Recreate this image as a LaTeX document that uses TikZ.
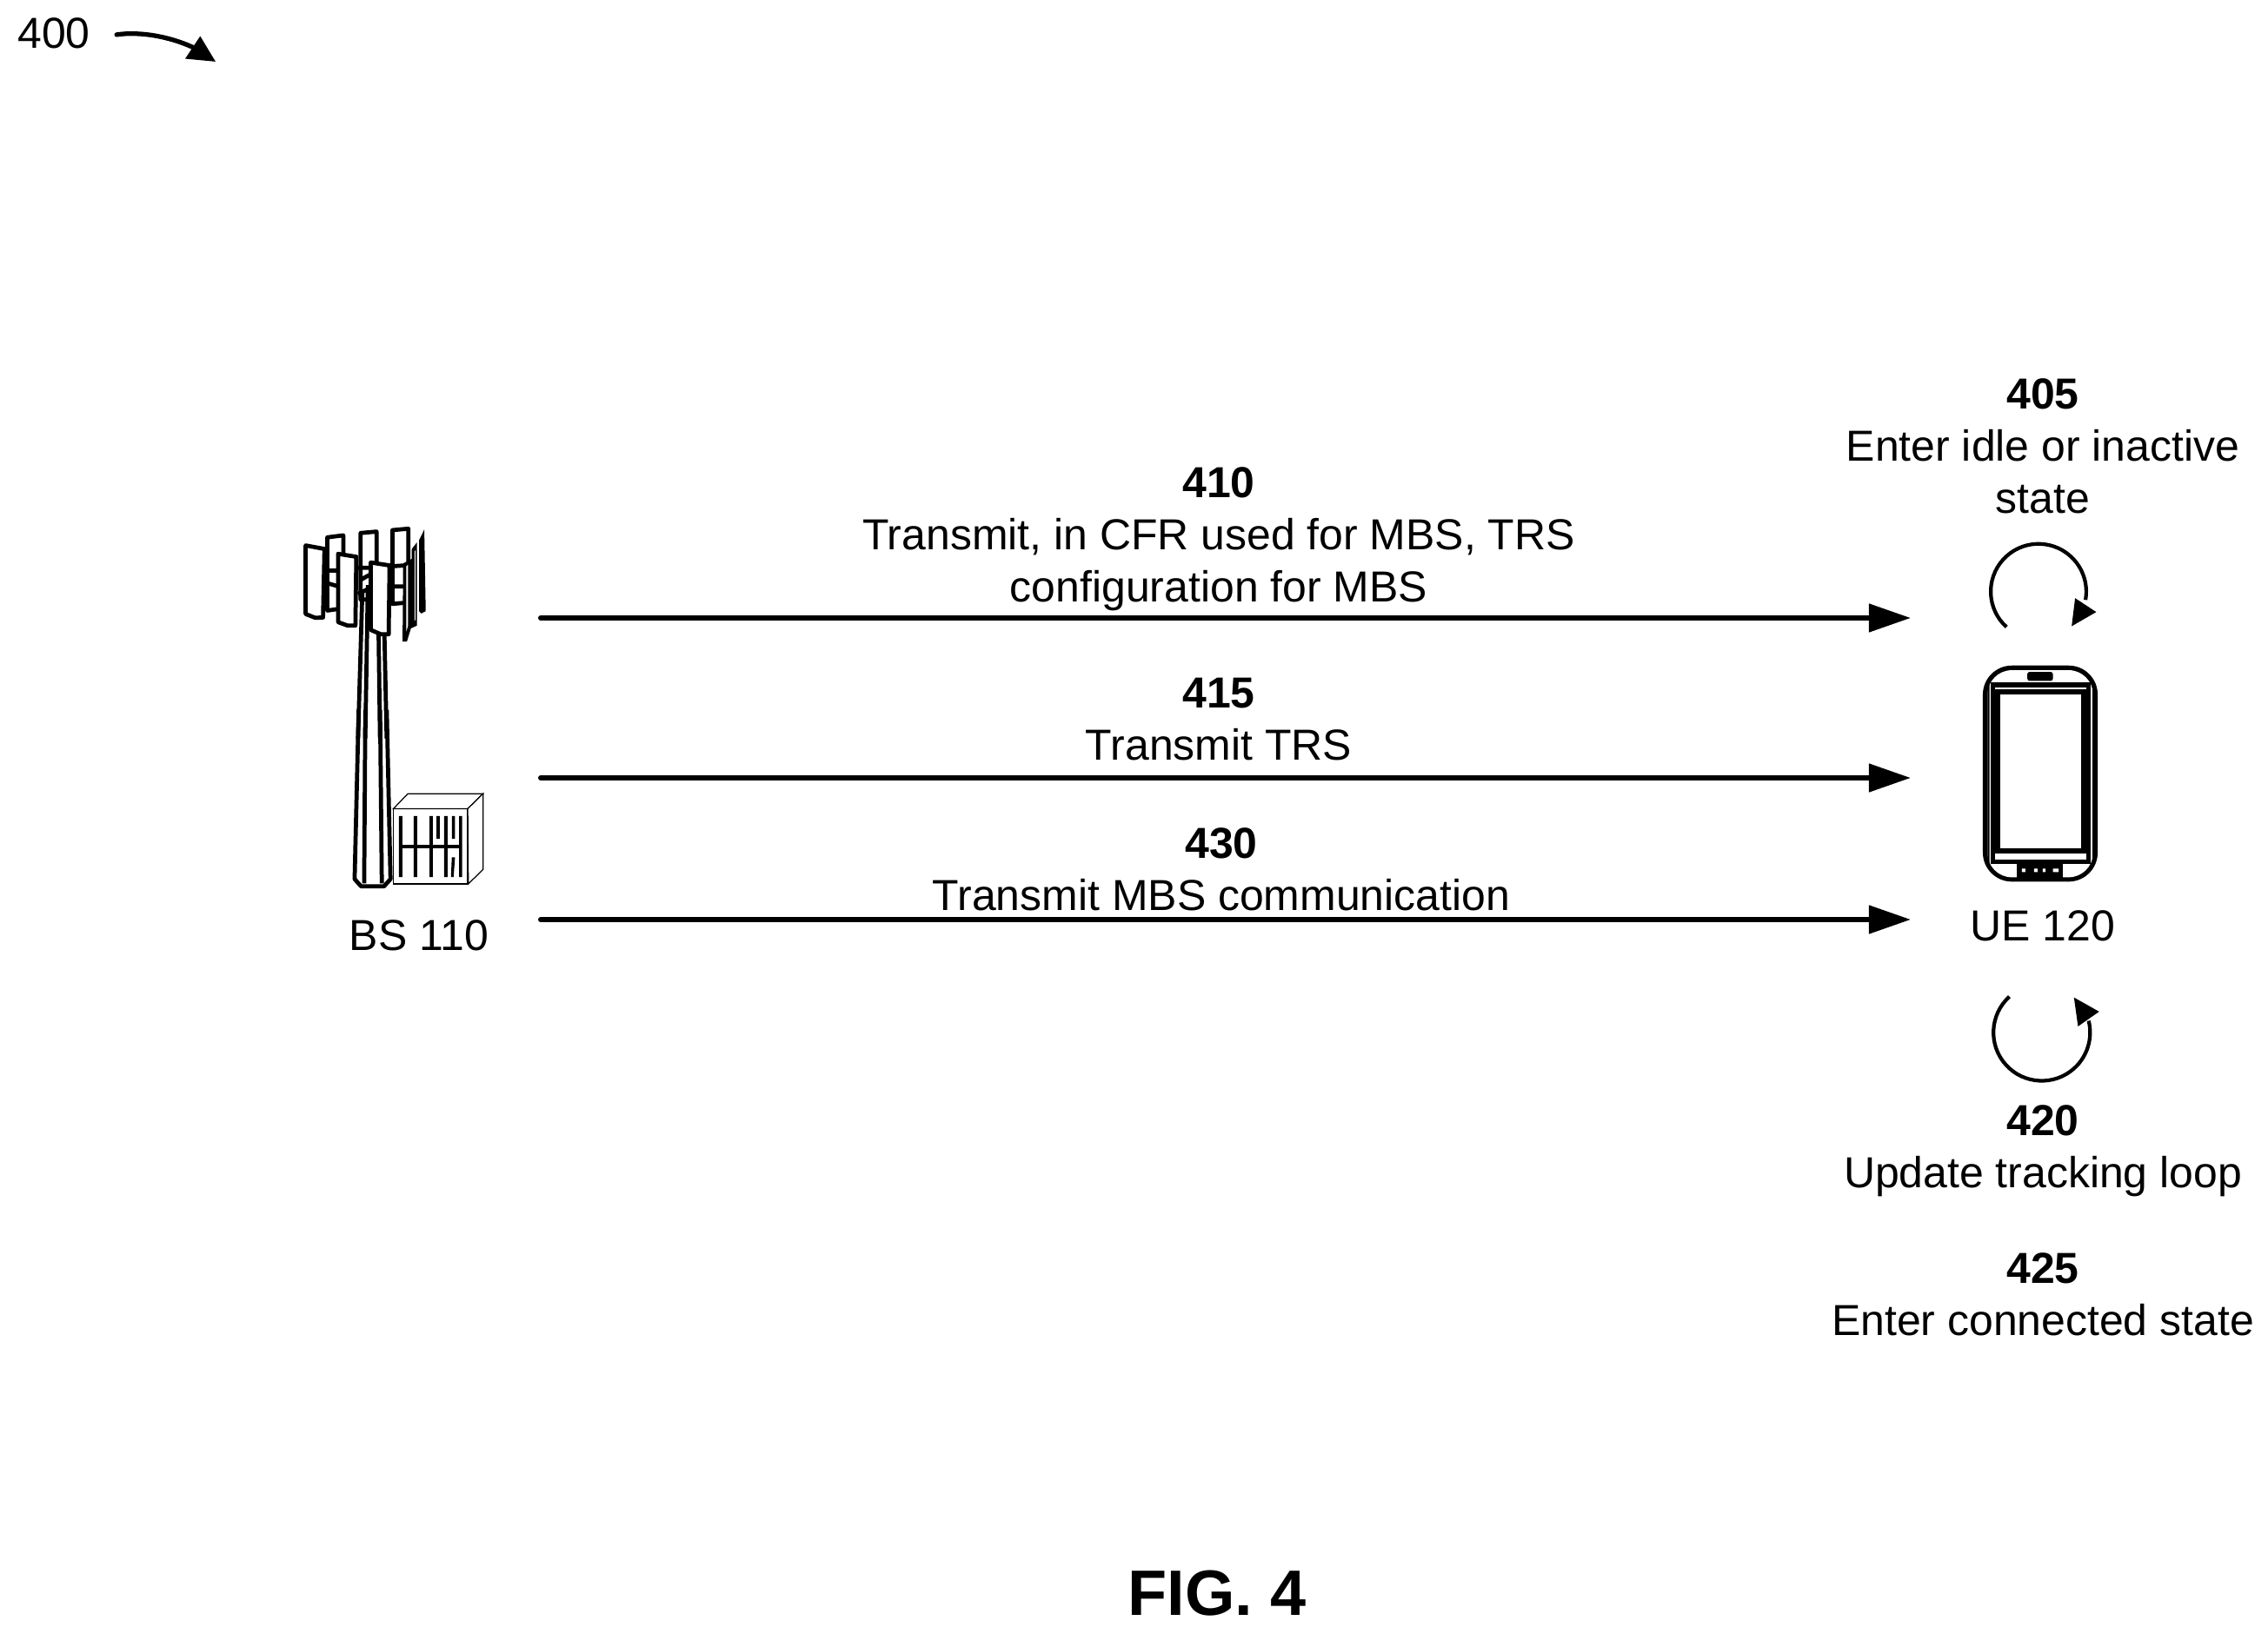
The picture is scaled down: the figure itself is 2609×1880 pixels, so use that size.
\documentclass[tikz,border=0pt]{standalone}
\usepackage{fontspec}
\setmainfont{Liberation Sans}
\usetikzlibrary{arrows.meta}
\tikzset{
  lbl/.style={align=center,inner sep=0pt,font=\fontsize{14.2}{17.07}\selectfont},
  msg/.style={line width=1.7pt,line cap=round,-{Triangle[length=13.7pt,width=9pt]}},
  icon/.style={line width=1.35pt,line join=round},
  iconw/.style={icon,draw=black,fill=white},
  loopline/.style={line width=1.2pt},
  zoomA/.style={shift={(320,580)},x=0.003333cm,y=-0.003333cm},
  zoomB/.style={shift={(370,820)},x=0.003333cm,y=-0.003333cm},
  zoomC/.style={shift={(2240,610)},x=0.003333cm,y=-0.003333cm},
  zoomD/.style={shift={(2240,1120)},x=0.003333cm,y=-0.003333cm},
  zoomE/.style={shift={(0,0)},x=0.003333cm,y=-0.003333cm}
}
\begin{document}
\begin{tikzpicture}[x=0.01cm,y=-0.01cm]
\useasboundingbox[fill=white] (0,0) rectangle (2609,1880);
% labels
\node[lbl] (n400) at (62,38) {400};
\node[lbl] (n405) at (2350,513) {\textbf{405}\\Enter idle or inactive\\state};
\node[lbl] (n410) at (1402,620) {\textbf{410}\\Transmit, in CFR used for MBS, TRS\\configuration for MBS};
\node[lbl] (n415) at (1402,828) {\textbf{415}\\Transmit TRS};
\node[lbl] (n430) at (1405,1000) {\textbf{430}\\Transmit MBS communication};
\node[lbl] (bs) at (482,1076) {BS 110};
\node[lbl] (ue) at (2350,1065) {UE 120};
\node[lbl] (n420) at (2350,1324) {\textbf{420}\\Update tracking loop};
\node[lbl] (n425) at (2350,1489) {\textbf{425}\\Enter connected state};
\node[inner sep=0pt,font=\fontsize{21}{25}\selectfont\bfseries] (fig) at (1400,1833) {FIG. 4};
% message arrows
\coordinate (s410) at (622,711); \coordinate (e410) at (2198,711);
\coordinate (s415) at (622,895); \coordinate (e415) at (2198,895);
\coordinate (s430) at (622,1058); \coordinate (e430) at (2198,1058);
\draw[msg] (s410) -- (e410);
\draw[msg] (s415) -- (e415);
\draw[msg] (s430) -- (e430);
% 400 arrow
\begin{scope}[zoomE]
\draw[line width=1.5pt,line cap=round] (403,120) .. controls (480,108) and (590,125) .. (680,170);
\fill (692,125) -- (745,213) -- (640,203) -- cycle;
\end{scope}
% tower top
\begin{scope}[zoomA]
\draw[iconw] (170,115) -- (225,108) -- (225,360) -- (170,368) -- cycle;
\draw[iconw] (285,100) -- (340,95) -- (340,330) -- (285,330) -- cycle;
\draw[iconw] (395,90) -- (450,85) -- (450,340) -- (395,345) -- cycle;
\draw[icon] (165,230) -- (210,230) (165,272) -- (210,285);
\draw[icon] (275,220) -- (325,220) (390,215) -- (440,212) (390,285) -- (440,285);
\draw[icon] (285,262) -- (315,245) (275,310) -- (320,290);
% right side panels
\fill (487,125) -- (505,88) -- (510,370) -- (495,378) -- (487,370) -- cycle;
\fill (462,155) -- (480,132) -- (480,420) -- (458,430) -- cycle;
\fill[white] (471,165) -- (474,160) -- (474,400) -- (471,405) -- cycle;
\fill (432,205) -- (470,185) -- (468,400) -- (445,475) -- (430,475) -- cycle;
\fill[white] (443,215) -- (449,210) -- (449,420) -- (443,440) -- cycle;
% mast top
\draw[line width=1.35pt] (291,300) -- (276,810) (310,280) -- (301,810) (347,440) -- (352,810) (367,440) -- (375,810);
% front panels
\draw[iconw] (95,143) -- (160,155) -- (155,392) -- (128,393) -- (95,380) -- cycle;
\draw[iconw] (207,172) -- (270,182) -- (267,420) -- (240,420) -- (207,408) -- cycle;
\draw[iconw] (320,202) -- (385,212) -- (382,450) -- (355,450) -- (320,435) -- cycle;
\end{scope}
% tower base and cabinet
\begin{scope}[zoomB]
\draw[line width=1.35pt,line join=round] (128,-10) -- (114,575) -- (136,600) -- (216,600) -- (238,575) -- (225,-10);
\draw[line width=1.35pt] (151,-10) -- (147,590) (202,-10) -- (208,590);
\draw[line width=0.35pt,fill=white] (248,332) -- (505,332) -- (505,592) -- (248,592) -- cycle;
\draw[line width=0.35pt,fill=white] (248,332) -- (298,280) -- (558,280) -- (505,332) -- cycle;
\draw[line width=0.35pt,fill=white] (505,332) -- (558,280) -- (558,542) -- (507,592) -- cycle;
\fill (267,357) rectangle (279,568) (318,357) rectangle (330,568) (373,357) rectangle (384,568);
\fill (397,357) rectangle (408,436) (423,357) rectangle (435,568) (450,357) rectangle (461,436) (475,357) rectangle (486,568);
\fill (272,457) rectangle (480,468);
\fill (450,500) -- (461,500) -- (456,568) -- (447,568) -- cycle;
\end{scope}
% UE and upper loop
\begin{scope}[zoomC]
\draw[loopline] (205,335) arc[start angle=-228,end angle=10,radius=165];
\fill (442,235) -- (515,283) -- (430,332) -- cycle;
\fill[rounded corners=9.5pt] (123,468) rectangle (520,1215);
\fill[white,rounded corners=8pt] (139,484) rectangle (504,1200);
\fill (150,525) rectangle (497,1155);
\fill[white] (165,544) rectangle (480,550);
\fill[white] (145,560) rectangle (150,1120) (497,560) rectangle (502,1120);
\fill (139,525) rectangle (146,1160) (502,525) rectangle (504,1160);
\fill[white] (183,567) rectangle (463,1100);
\fill[white] (165,1118) rectangle (480,1138);
\fill[rounded corners=0.7pt] (277,490) rectangle (365,521);
\fill (240,1150) rectangle (400,1210);
\fill[white] (258,1170) rectangle (270,1182) (300,1170) rectangle (312,1182) (330,1170) rectangle (340,1182) (365,1170) rectangle (385,1182);
\end{scope}
% lower loop
\begin{scope}[zoomD]
\draw[loopline] (215,80) arc[start angle=-132,end angle=-374,radius=167];
\fill (438,83) -- (525,132) -- (452,183) -- cycle;
\end{scope}
\end{tikzpicture}
\end{document}
